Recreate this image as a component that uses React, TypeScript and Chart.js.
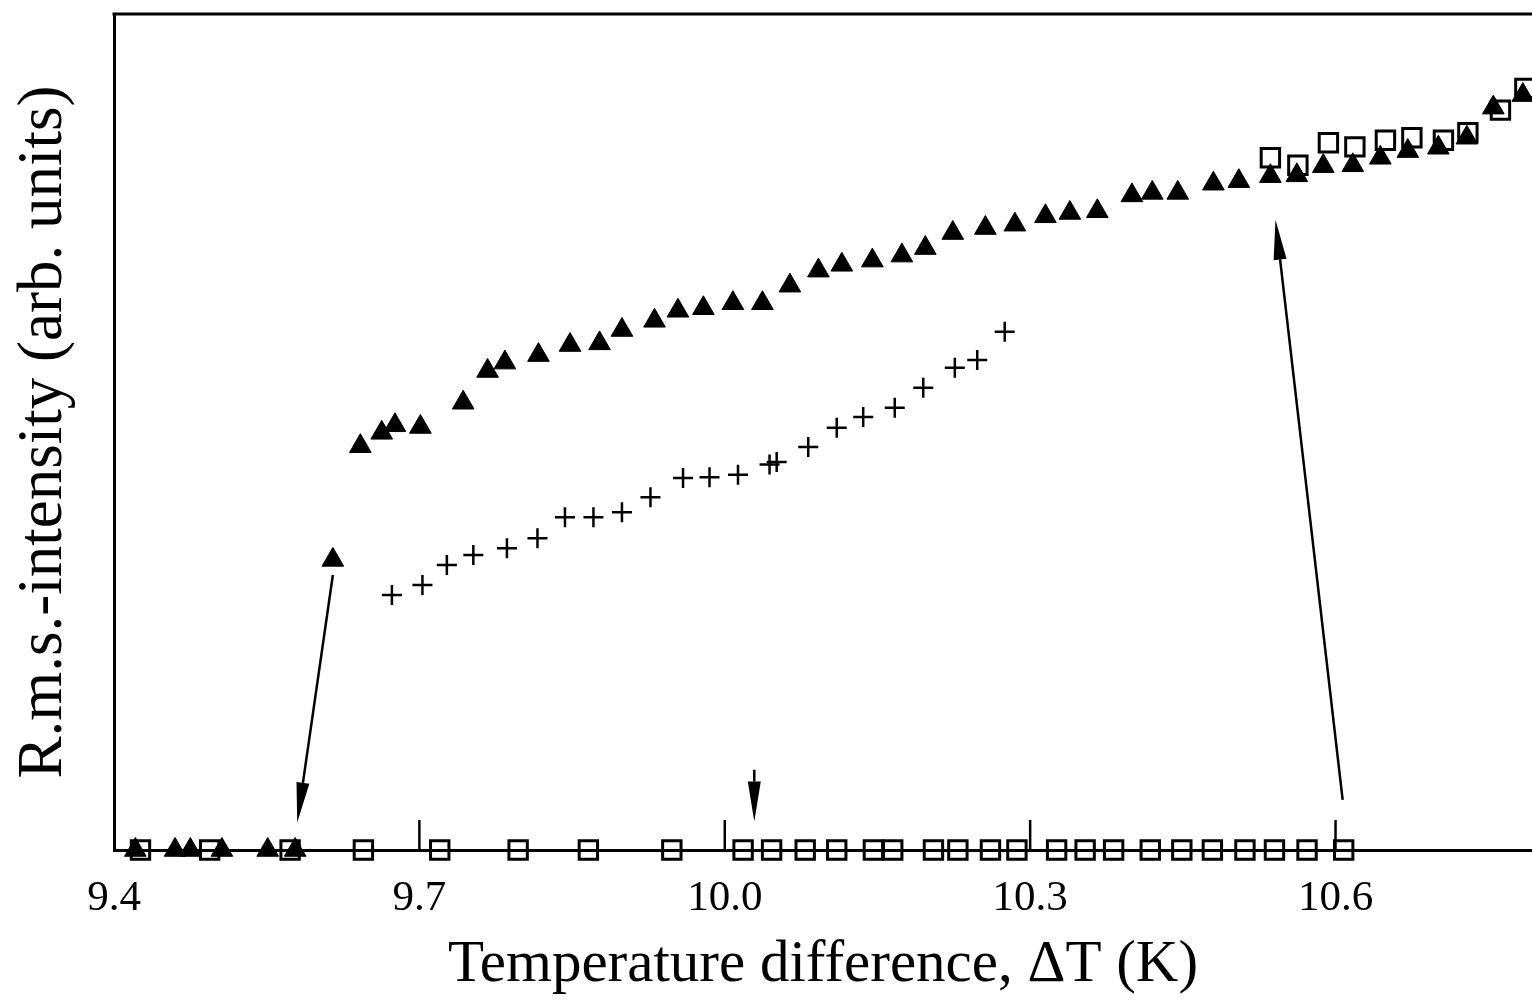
import React, { useEffect, useRef } from "react";
import { Chart, registerables } from "chart.js";

Chart.register(...registerables);

// ---- Data ----
const xTicks = [9.4, 9.7, 10.0, 10.3, 10.6];

// filled triangles
const triX = [
  9.421, 9.46, 9.475, 9.506, 9.551, 9.578,
  9.615, 9.642, 9.663, 9.676, 9.701, 9.743, 9.767, 9.784, 9.817, 9.848,
  9.877, 9.899, 9.931, 9.954, 9.979, 10.008, 10.037, 10.064, 10.092, 10.115,
  10.145, 10.174, 10.197, 10.224, 10.256, 10.285, 10.315, 10.339, 10.366, 10.4,
  10.42, 10.445, 10.48, 10.505, 10.536, 10.562, 10.588, 10.617, 10.644, 10.671,
  10.701, 10.729, 10.755, 10.784,
];
const triY = [
  0, 0, 0, 0, 0, 0,
  34.7, 48.3, 49.9, 50.8, 50.6, 53.5, 57.3, 58.3, 59.2, 60.4,
  60.6, 62.2, 63.3, 64.5, 64.8, 65.4, 65.4, 67.5, 69.3, 70.0,
  70.5, 71.1, 72.0, 73.8, 74.4, 74.8, 75.8, 76.2, 76.4, 78.3,
  78.6, 78.6, 79.7, 80.0, 80.6, 80.7, 81.8, 81.9, 82.8, 83.6,
  84.0, 85.2, 88.8, 90.3,
];

// crosses
const plusX = [
  9.673, 9.703, 9.727, 9.753, 9.786, 9.816, 9.843, 9.871, 9.899, 9.927,
  9.959, 9.985, 10.013, 10.044, 10.051, 10.082, 10.11, 10.136, 10.167, 10.195,
  10.226, 10.248, 10.275,
];
const plusY = [
  30.5, 31.7, 34.1, 35.3, 36.1, 37.3, 39.8, 39.8, 40.4, 42.2,
  44.5, 44.6, 44.9, 46.1, 46.4, 48.2, 50.5, 51.8, 52.9, 55.3,
  57.7, 58.6, 62.0,
];

// open squares
const sqX = [
  9.426, 9.494, 9.573, 9.645, 9.72, 9.797, 9.866, 9.948, 10.018, 10.046,
  10.079, 10.11, 10.146, 10.165, 10.205, 10.229, 10.261, 10.287, 10.326, 10.354,
  10.382, 10.418, 10.449, 10.479, 10.511, 10.54, 10.572, 10.608,
  10.536, 10.563, 10.593, 10.619, 10.649, 10.675, 10.706, 10.73, 10.762, 10.786,
];
const sqY = [
  0, 0, 0, 0, 0, 0, 0, 0, 0, 0,
  0, 0, 0, 0, 0, 0, 0, 0, 0, 0,
  0, 0, 0, 0, 0, 0, 0, 0,
  82.8, 81.9, 84.6, 84.1, 84.9, 85.2, 84.9, 85.8, 88.5, 91.1,
];

// annotation arrows (data units)
const arrowFromX = [9.615, 10.029, 10.607];
const arrowFromY = [32.9, 9.6, 6.0];
const arrowToX = [9.58, 10.029, 10.541];
const arrowToY = [3.3, 3.4, 75.4];

const FONT = '"Liberation Serif", "Times New Roman", serif';

const decorPlugin = {
  id: "decor",
  afterDatasetsDraw(chart: any) {
    const { ctx, chartArea, scales } = chart;
    const { left, top, right, bottom } = chartArea;
    const xs = scales.x;
    const ys = scales.y;
    ctx.save();
    ctx.strokeStyle = "#000";
    ctx.fillStyle = "#000";
    // top frame line
    ctx.lineWidth = 3;
    ctx.beginPath();
    ctx.moveTo(left - 1.5, top);
    ctx.lineTo(right, top);
    ctx.stroke();
    // inward tick marks
    ctx.lineWidth = 2.5;
    xTicks.slice(1).forEach((v) => {
      const px = xs.getPixelForValue(v);
      ctx.beginPath();
      ctx.moveTo(px, bottom);
      ctx.lineTo(px, bottom - 30);
      ctx.stroke();
    });
    // arrows
    for (let i = 0; i < arrowFromX.length; i++) {
      const x1 = xs.getPixelForValue(arrowFromX[i]);
      const y1 = ys.getPixelForValue(arrowFromY[i]);
      const x2 = xs.getPixelForValue(arrowToX[i]);
      const y2 = ys.getPixelForValue(arrowToY[i]);
      const ang = Math.atan2(y2 - y1, x2 - x1);
      const headLen = 40;
      const headW = 6.5;
      const bx = x2 - Math.cos(ang) * headLen;
      const by = y2 - Math.sin(ang) * headLen;
      ctx.lineWidth = 2.5;
      ctx.beginPath();
      ctx.moveTo(x1, y1);
      ctx.lineTo(bx, by);
      ctx.stroke();
      ctx.beginPath();
      ctx.moveTo(x2, y2);
      ctx.lineTo(bx + Math.sin(ang) * headW, by - Math.cos(ang) * headW);
      ctx.lineTo(bx - Math.sin(ang) * headW, by + Math.cos(ang) * headW);
      ctx.closePath();
      ctx.fill();
    }
    ctx.restore();
  },
};

export default function App() {
  const canvasRef = useRef<HTMLCanvasElement | null>(null);

  useEffect(() => {
    if (!canvasRef.current) return;
    const chart = new Chart(canvasRef.current, {
      type: "scatter",
      data: {
        datasets: [
          {
            data: triX.map((v, i) => ({ x: v, y: triY[i] })),
            pointStyle: "triangle",
            pointRadius: 12.5,
            backgroundColor: "#000",
            borderColor: "#000",
            borderWidth: 1,
            clip: false,
          } as any,
          {
            data: plusX.map((v, i) => ({ x: v, y: plusY[i] })),
            pointStyle: "cross",
            pointRadius: 10,
            backgroundColor: "#000",
            borderColor: "#000",
            borderWidth: 2.5,
            clip: false,
          } as any,
          {
            data: sqX.map((v, i) => ({ x: v, y: sqY[i] })),
            pointStyle: "rect",
            pointRadius: 13,
            backgroundColor: "rgba(0,0,0,0)",
            borderColor: "#000",
            borderWidth: 3,
            clip: false,
          } as any,
        ],
      },
      options: {
        animation: false,
        responsive: false,
        events: [],
        layout: { autoPadding: false, padding: { top: 14, right: 0, bottom: 0, left: 0 } },
        plugins: {
          legend: { display: false },
          tooltip: { enabled: false },
        },
        scales: {
          x: {
            type: "linear",
            min: 9.4,
            max: 10.793,
            afterBuildTicks: (s: any) => {
              s.ticks = xTicks.map((v) => ({ value: v }));
            },
            afterFit: (s: any) => {
              s.height = 151;
            },
            grid: { display: false, drawTicks: false },
            border: { display: true, color: "#000", width: 3 },
            ticks: {
              color: "#000",
              font: { family: FONT, size: 43 },
              padding: 23,
              autoSkip: false,
              maxRotation: 0,
              callback: (v: any) => Number(v).toFixed(1),
            },
            title: {
              display: true,
              text: "Temperature difference, ΔT (K)",
              color: "#000",
              font: { family: FONT, size: 59 },
              padding: { top: 0, bottom: 0 },
            },
          },
          y: {
            type: "linear",
            min: 0,
            max: 100,
            afterFit: (s: any) => {
              s.width = 114;
            },
            grid: { display: false, drawTicks: false },
            border: { display: true, color: "#000", width: 3 },
            ticks: { display: false },
            title: {
              display: true,
              text: "R.m.s.-intensity (arb. units)",
              color: "#000",
              font: { family: FONT, size: 63 },
              padding: { top: 7, bottom: 0 },
            },
          },
        },
      } as any,
      plugins: [decorPlugin],
    });
    return () => chart.destroy();
  }, []);

  return (
    <div style={{ position: "absolute", left: 0, top: 0, width: 1532, height: 1001, background: "#fff" }}>
      <canvas ref={canvasRef} width={1532} height={1001} style={{ display: "block" }} />
    </div>
  );
}
